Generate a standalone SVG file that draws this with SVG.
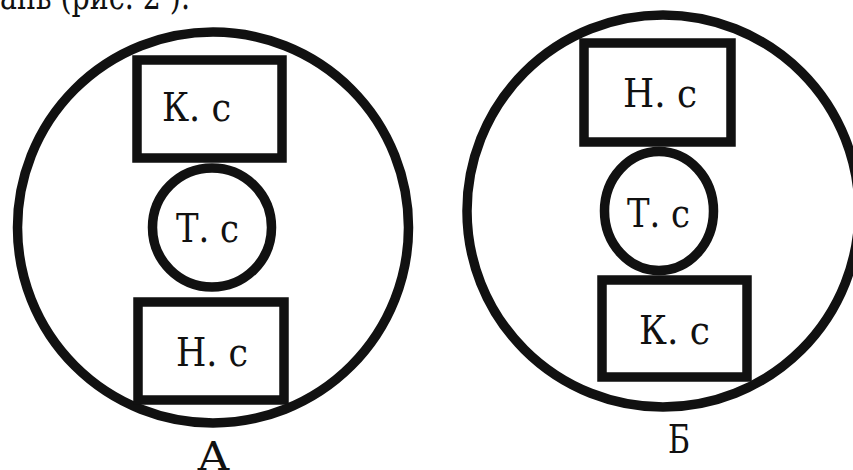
<svg xmlns="http://www.w3.org/2000/svg" width="853" height="470" viewBox="0 0 853 470">
<style>
.s{fill:none;stroke:#111;stroke-width:9.5}
</style>
<rect width="853" height="470" fill="#fff"/>
<g font-family="DejaVu Serif, Liberation Serif, serif" font-size="40" fill="#111" lengthAdjust="spacingAndGlyphs">
<text x="0" y="9" font-size="37" textLength="190" lengthAdjust="spacingAndGlyphs">ань (рис. 2 ).</text>
<g id="diagramA">
<g id="outerA"><circle class="s" cx="213" cy="227.5" r="195.5"/></g>
<g id="ksA"><rect class="s" x="137" y="60" width="145" height="98"/><text x="162" y="121" textLength="69" lengthAdjust="spacingAndGlyphs">К. с</text></g>
<g id="tsA"><circle class="s" cx="212" cy="227.5" r="59.5"/><text x="176" y="242" textLength="63" lengthAdjust="spacingAndGlyphs">Т. с</text></g>
<g id="nsA"><rect class="s" x="138" y="302" width="146" height="98"/><text x="176" y="366" textLength="72" lengthAdjust="spacingAndGlyphs">Н. с</text></g>
<text x="197" y="470" textLength="33" lengthAdjust="spacingAndGlyphs">А</text>
</g>
<g id="diagramB">
<g id="outerB"><circle class="s" cx="663" cy="211" r="196"/></g>
<g id="nsB"><rect class="s" x="584" y="43" width="147" height="99"/><text x="623" y="107" textLength="74" lengthAdjust="spacingAndGlyphs">Н. с</text></g>
<g id="tsB"><ellipse class="s" cx="659" cy="211" rx="54.5" ry="59.5"/><text x="627" y="227" textLength="63" lengthAdjust="spacingAndGlyphs">Т. с</text></g>
<g id="ksB"><rect class="s" x="602" y="280" width="145" height="97"/><text x="639" y="344" textLength="71" lengthAdjust="spacingAndGlyphs">К. с</text></g>
<text x="668" y="453" textLength="22" lengthAdjust="spacingAndGlyphs">Б</text>
</g>
</g>
<g id="connectors"/>
</svg>
